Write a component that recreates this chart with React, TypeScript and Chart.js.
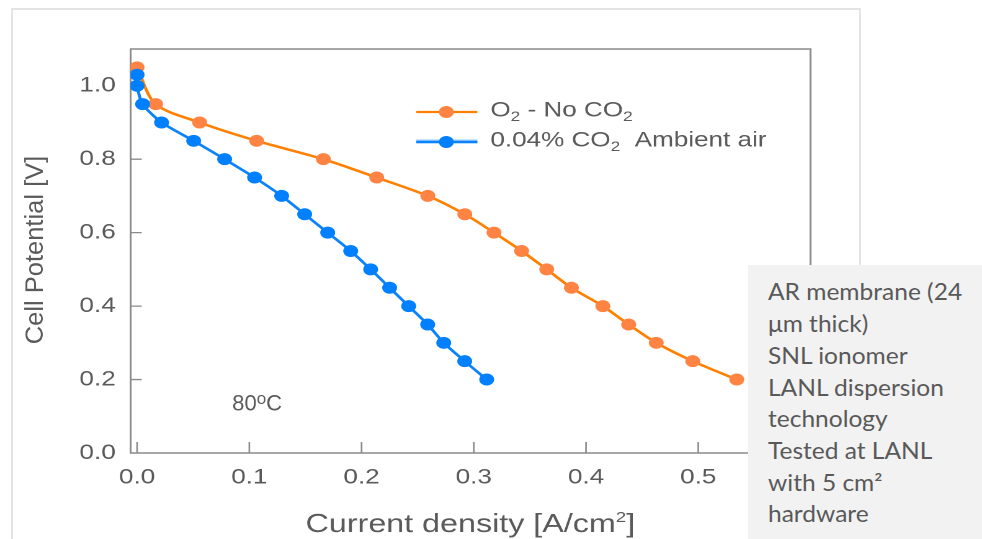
import React, { useEffect, useRef } from "react";
import { Chart, registerables } from "chart.js";

Chart.register(...registerables);

// Polarization curves at 80 °C
const O2_CURRENT = [0, 0.0165, 0.0557, 0.1065, 0.166, 0.2135, 0.259, 0.292, 0.318, 0.3426, 0.365, 0.387, 0.415, 0.438, 0.4626, 0.4951, 0.5343];
const O2_VOLTAGE = [1.05, 0.95, 0.9, 0.85, 0.8, 0.75, 0.7, 0.65, 0.6, 0.55, 0.5, 0.45, 0.4, 0.35, 0.3, 0.25, 0.2];

const AIR_CURRENT = [0, 0, 0.0049, 0.0218, 0.0504, 0.078, 0.1047, 0.1288, 0.1493, 0.1698, 0.1903, 0.2081, 0.225, 0.242, 0.2589, 0.2732, 0.2919, 0.3115];
const AIR_VOLTAGE = [1.03, 1.0, 0.95, 0.9, 0.85, 0.8, 0.75, 0.7, 0.65, 0.6, 0.55, 0.5, 0.45, 0.4, 0.35, 0.3, 0.25, 0.2];

const X_TICKS = [0, 0.1, 0.2, 0.3, 0.4, 0.5];
const Y_TICKS = [0, 0.2, 0.4, 0.6, 0.8, 1.0];

const X_TITLE = "Current density [A/cm";
const Y_TITLE = "Cell Potential [V]";
const TEMP_LABEL = "80";

const NOTE_LINES = [
  "AR membrane (24",
  "\u03bcm thick)",
  "SNL ionomer",
  "LANL dispersion",
  "technology",
  "Tested at LANL",
  "with 5 cm\u00b2",
  "hardware",
];

const O2_LINE = "#ff8000";
const O2_MARK = "#ff8444";
const AIR_LINE = "#0a82fa";
const AIR_MARK = "#0080ff";
const TEXT = "#5a5a5a";
const AXIS = "#8a8a8a";
const FONT = '"Liberation Sans", Arial, Helvetica, sans-serif';

// the plot is drawn narrow and widened horizontally
const STRETCH = 1.24;
const W = 982;
const H = 539;
const CW = W / STRETCH;

type Seg = { t: string; size: number; dy?: number };

function drawRich(ctx: CanvasRenderingContext2D, segs: Seg[], x: number, y: number, align: "left" | "center") {
  let total = 0;
  const widths = segs.map((s) => {
    ctx.font = `${s.size}px ${FONT}`;
    const w = ctx.measureText(s.t).width;
    total += w;
    return w;
  });
  let cx = align === "center" ? x - total / 2 : x;
  ctx.textAlign = "left";
  ctx.textBaseline = "alphabetic";
  segs.forEach((s, i) => {
    ctx.font = `${s.size}px ${FONT}`;
    ctx.fillText(s.t, cx, y + (s.dy || 0));
    cx += widths[i];
  });
}

const decor = {
  id: "decor",
  beforeDatasetsDraw(chart: any) {
    const { ctx, chartArea: a, scales } = chart;
    ctx.save();
    ctx.strokeStyle = AXIS;
    ctx.lineWidth = 1.5;
    ctx.strokeRect(a.left, a.top, a.right - a.left, a.bottom - a.top);
    // inward tick marks
    ctx.lineWidth = 1.3;
    ctx.beginPath();
    scales.x.ticks.forEach((t: any) => {
      const px = scales.x.getPixelForValue(t.value);
      ctx.moveTo(px, a.bottom);
      ctx.lineTo(px, a.bottom - 11);
    });
    scales.y.ticks.forEach((t: any) => {
      if (t.value === 0) return;
      const py = scales.y.getPixelForValue(t.value);
      ctx.moveTo(a.left, py);
      ctx.lineTo(a.left + 9, py);
    });
    ctx.stroke();
    ctx.restore();
  },
  afterDraw(chart: any) {
    const { ctx } = chart;
    ctx.save();
    ctx.fillStyle = TEXT;

    // legend
    const entries = [
      { y: 112, line: O2_LINE, mark: O2_MARK, segs: [
        { t: "O", size: 21 }, { t: "2", size: 14, dy: 4.5 }, { t: " - No CO", size: 21 }, { t: "2", size: 14, dy: 4.5 },
      ] },
      { y: 142, line: AIR_LINE, mark: AIR_MARK, segs: [
        { t: "0.04% CO", size: 21 }, { t: "2", size: 14, dy: 4.5 }, { t: "  Ambient air", size: 21 },
      ] },
    ];
    entries.forEach((e, i) => {
      if (i === 1) {
        ctx.strokeStyle = "#8cc6ff";
        ctx.lineWidth = 4;
        ctx.beginPath();
        ctx.moveTo(335.5, e.y - 0.5);
        ctx.lineTo(384.7, e.y - 0.5);
        ctx.stroke();
      }
      ctx.strokeStyle = e.line;
      ctx.lineWidth = 2.2;
      ctx.beginPath();
      ctx.moveTo(335.5, e.y);
      ctx.lineTo(384.7, e.y);
      ctx.stroke();
      ctx.fillStyle = e.mark;
      ctx.beginPath();
      ctx.arc(359.7, e.y, 6, 0, Math.PI * 2);
      ctx.fill();
      ctx.fillStyle = TEXT;
      drawRich(ctx, e.segs, 395.2, e.y + 4.5, "left");
    });

    // x axis title
    drawRich(ctx, [{ t: X_TITLE, size: 26 }, { t: "2", size: 15, dy: -10 }, { t: "]", size: 26 }], 470 / STRETCH, 532, "center");

    // y axis title (kept at natural proportions)
    ctx.save();
    ctx.translate(42.5 / STRETCH, 250);
    ctx.scale(1 / STRETCH, 1);
    ctx.rotate(-Math.PI / 2);
    drawRich(ctx, [{ t: Y_TITLE, size: 25.5 }], 0, 0, "center");
    ctx.restore();

    // temperature label
    ctx.save();
    ctx.translate(232 / STRETCH, 410.7);
    ctx.scale(1 / STRETCH, 1);
    drawRich(ctx, [{ t: TEMP_LABEL, size: 22 }, { t: "o", size: 17, dy: -6.5 }, { t: "C", size: 22 }], 0, 0, "left");
    ctx.restore();

    ctx.restore();
  },
};

export default function App() {
  const ref = useRef<HTMLCanvasElement | null>(null);

  useEffect(() => {
    if (!ref.current) return;
    const tickFont = { family: FONT, size: 21 };
    const chart = new Chart(ref.current, {
      type: "line",
      data: {
        datasets: [
          {
            label: "O2 - No CO2",
            data: O2_CURRENT.map((x, i) => ({ x, y: O2_VOLTAGE[i] })),
            borderColor: O2_LINE,
            backgroundColor: O2_MARK,
            pointBackgroundColor: O2_MARK,
            pointBorderWidth: 0,
            pointRadius: 6,
            pointHoverRadius: 6,
            borderWidth: 2.5,
            tension: 0.3,
            fill: false,
            order: 1,
          },
          {
            label: "0.04% CO2 Ambient air",
            data: AIR_CURRENT.map((x, i) => ({ x, y: AIR_VOLTAGE[i] })),
            borderColor: AIR_LINE,
            backgroundColor: AIR_MARK,
            pointBackgroundColor: AIR_MARK,
            pointBorderWidth: 0,
            pointRadius: 6,
            pointHoverRadius: 6,
            borderWidth: 2.5,
            tension: 0.25,
            fill: false,
            order: 0,
          },
        ],
      },
      options: {
        animation: false,
        responsive: true,
        maintainAspectRatio: false,
        devicePixelRatio: 2,
        layout: { padding: { top: 49, right: CW - 810 / STRETCH, left: 0, bottom: 0 } },
        plugins: { legend: { display: false }, tooltip: { enabled: false } },
        scales: {
          x: {
            type: "linear",
            min: -0.0058,
            max: 0.6,
            afterBuildTicks: (s: any) => {
              s.ticks = X_TICKS.map((v) => ({ value: v }));
            },
            afterFit: (s: any) => {
              s.height = H - 453;
            },
            grid: { display: false, drawTicks: false },
            border: { display: false },
            ticks: {
              padding: 12,
              font: tickFont,
              color: TEXT,
              maxRotation: 0,
              autoSkip: false,
              callback: (v: any) => Number(v).toFixed(1),
            },
          },
          y: {
            type: "linear",
            min: 0,
            max: 1.1,
            afterBuildTicks: (s: any) => {
              s.ticks = Y_TICKS.map((v) => ({ value: v }));
            },
            afterFit: (s: any) => {
              s.width = 130.5 / STRETCH;
            },
            grid: { display: false, drawTicks: false },
            border: { display: false },
            ticks: {
              padding: 12,
              font: tickFont,
              color: TEXT,
              autoSkip: false,
              callback: (v: any) => Number(v).toFixed(1),
            },
          },
        },
      },
      plugins: [decor],
    });
    return () => chart.destroy();
  }, []);

  return (
    <div style={{ position: "fixed", left: 0, top: 0, width: W, height: H, overflow: "hidden", background: "#fff" }}>
      <div
        style={{
          position: "absolute",
          left: 11,
          top: 8,
          width: 850,
          height: 580,
          border: "2px solid #e4e4e4",
          boxSizing: "border-box",
        }}
      />
      <div
        style={{
          position: "absolute",
          left: 0,
          top: 0,
          width: CW,
          height: H,
          transform: `scaleX(${STRETCH})`,
          transformOrigin: "0 0",
        }}
      >
        <canvas ref={ref} />
      </div>
      <div
        style={{
          position: "absolute",
          left: 748,
          top: 265,
          width: 260,
          height: 300,
          background: "#f2f2f2",
          boxSizing: "border-box",
          paddingLeft: 20,
          paddingTop: 11.4,
          fontFamily: 'Lato, "Open Sans", sans-serif',
          fontSize: 22.5,
          lineHeight: "31.7px",
          color: "#595959",
          whiteSpace: "nowrap",
        }}
      >
        <div style={{ transform: "scaleX(1.09)", transformOrigin: "0 0" }}>
          {NOTE_LINES.map((l, i) => (
            <div key={i}>{l}</div>
          ))}
        </div>
      </div>
    </div>
  );
}
